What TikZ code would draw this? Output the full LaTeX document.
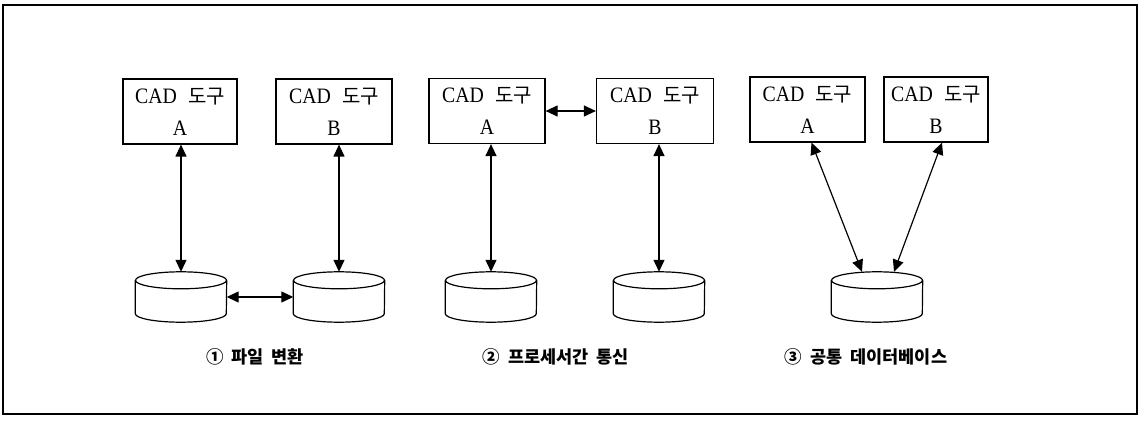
\documentclass[tikz,border=0pt]{standalone}
\usepackage{fontspec}
\usetikzlibrary{arrows.meta}
\setmainfont{Liberation Serif}
\newfontfamily\kor{Noto Sans CJK KR}
\newfontfamily\lat[FakeStretch=0.9]{Liberation Serif}
\newcommand{\cadtxt}[1]{{\lat CAD}\hspace{11pt}{\kor\fontsize{20}{32}\selectfont 도구}\\{\lat #1}}
\begin{document}
\begin{tikzpicture}[x=1pt,y=-1pt,
  tool/.style={draw,line width=1.2pt,minimum height=65pt,inner sep=0pt,align=center,
    font=\fontsize{22}{32}\selectfont},
  cylbox/.style={minimum width=91pt,minimum height=50pt,inner sep=0pt},
  cylline/.style={line width=1.2pt},
  biarrow/.style={line width=1.2pt,{Triangle[length=12pt,width=11pt]}-{Triangle[length=12pt,width=11pt]}},
  lbl/.style={font=\kor\bfseries\fontsize{17.5}{20}\selectfont}]
\useasboundingbox (0,0) rectangle (1141,422);
\draw[line width=1.6pt] (3,5) rectangle (1137,414);
% boxes
\node[tool,minimum width=114pt] (b1a) at (180,111.5) {\cadtxt{A}};
\node[tool,minimum width=116pt] (b1b) at (334,111.5) {\cadtxt{B}};
\node[tool,minimum width=116pt] (b2a) at (487,111) {\cadtxt{A}};
\node[tool,minimum width=117pt] (b2b) at (655,111) {\cadtxt{B}};
\node[tool,minimum width=115pt] (b3a) at (807.5,109.5) {\cadtxt{A}};
\node[tool,minimum width=104pt] (b3b) at (936,109.5) {\cadtxt{B}};
% cylinders
\foreach \n/\x in {c1a/181,c1b/339,c2a/491,c2b/659,c3/877}{
  \node[cylbox] (\n) at (\x,297) {};
  \draw[cylline] ([yshift=-8.5pt]\n.north) ellipse [x radius=45.5pt,y radius=8.5pt];
  \draw[cylline] ([yshift=-8.5pt]\n.north west) -- ([yshift=8.5pt]\n.south west)
    arc[start angle=180,end angle=360,x radius=45.5pt,y radius=8.5pt]
    -- ([yshift=-8.5pt]\n.north east);
}
% connectors
\draw[biarrow] (c1a.north |- b1a.south) -- (c1a.north);
\draw[biarrow] (c1b.north |- b1b.south) -- (c1b.north);
\draw[biarrow] (c1a.east) -- (c1b.west);
\draw[biarrow] (c2a.north |- b2a.south) -- (c2a.north);
\draw[biarrow] (c2b.north |- b2b.south) -- (c2b.north);
\draw[biarrow] (b2a.east) -- (b2b.west);
\draw[biarrow] ([xshift=4pt]b3a.south) -- ([xshift=-15pt]c3.north);
\draw[biarrow] ([xshift=6pt]b3b.south) -- ([xshift=17pt]c3.north);
% labels
\node[lbl] (l1) at (255,357) {①\hspace{8pt}파일\hspace{8pt}변환};
\node[lbl] (l2) at (556,357) {②\hspace{8pt}프로세서간\hspace{8pt}통신};
\node[lbl] (l3) at (866,357) {③\hspace{8pt}공통\hspace{8pt}데이터베이스};
\end{tikzpicture}
\end{document}
